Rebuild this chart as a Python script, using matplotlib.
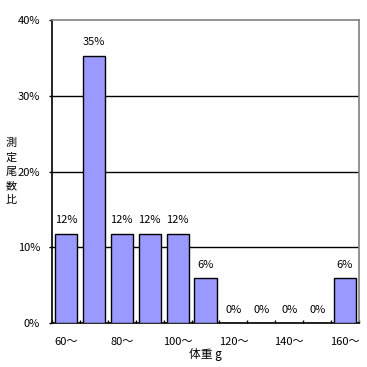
import matplotlib
matplotlib.use("Agg")
import matplotlib.pyplot as plt
import numpy as np

plt.rcParams['font.family'] = ['Noto Sans CJK JP', 'DejaVu Sans']

# data
categories = ["60～", "70～", "80～", "90～", "100～", "110～",
              "120～", "130～", "140～", "150～", "160～"]
share_pct = [11.8, 35.3, 11.8, 11.8, 11.8, 5.9, 0, 0, 0, 0, 5.9]
yticks = [0, 10, 20, 30, 40]
ylabel_chars = ["測", "定", "尾", "数", "比"]

W, H = 367, 367
fig = plt.figure(figsize=(W / 100, H / 100), dpi=100)
ax = fig.add_axes([52 / W, (H - 323) / H, (359 - 52) / W, (323 - 20) / H])

x = np.arange(len(categories))
ax.bar(x, share_pct, width=0.79, color="#9999FF", edgecolor="black",
       linewidth=1.0, zorder=3)

for xi, v in zip(x, share_pct):
    ax.text(xi, v + 1.1, f"{v:.0f}%", ha="center", va="bottom", fontsize=8)

ax.set_xlim(-0.5, len(categories) - 0.5)
ax.set_ylim(0, 40)
ax.set_yticks(yticks)
ax.set_yticklabels([f"{t}%" for t in yticks], fontsize=8)
for t in yticks[1:-1]:
    ax.axhline(t, color="black", linewidth=1.0, zorder=1)

# category labels every other bar, tick marks at category boundaries
ax.set_xticks(x[::2])
ax.set_xticklabels(categories[::2], fontsize=8)
ax.set_xticks(np.arange(len(categories) + 1) - 0.5, minor=True)
ax.tick_params(axis="x", which="major", length=0, pad=10)
ax.tick_params(axis="x", which="minor", direction="in", length=2.5, width=1)
ax.tick_params(axis="y", direction="out", length=2.5, width=1, pad=6)

for s in ["top", "right"]:
    ax.spines[s].set_color("#808080")
    ax.spines[s].set_linewidth(1.2)
for s in ["left", "bottom"]:
    ax.spines[s].set_color("black")
    ax.spines[s].set_linewidth(1.2)

ax.set_xlabel("体重 g", fontsize=8.5, labelpad=1)

# vertical stacked y label, one character per line
for i, ch in enumerate(ylabel_chars):
    fig.text(11 / W, 1 - (143 + i * 14.3) / H, ch, ha="center", va="center",
             fontsize=8)

fig.savefig("out.png", dpi=100)
